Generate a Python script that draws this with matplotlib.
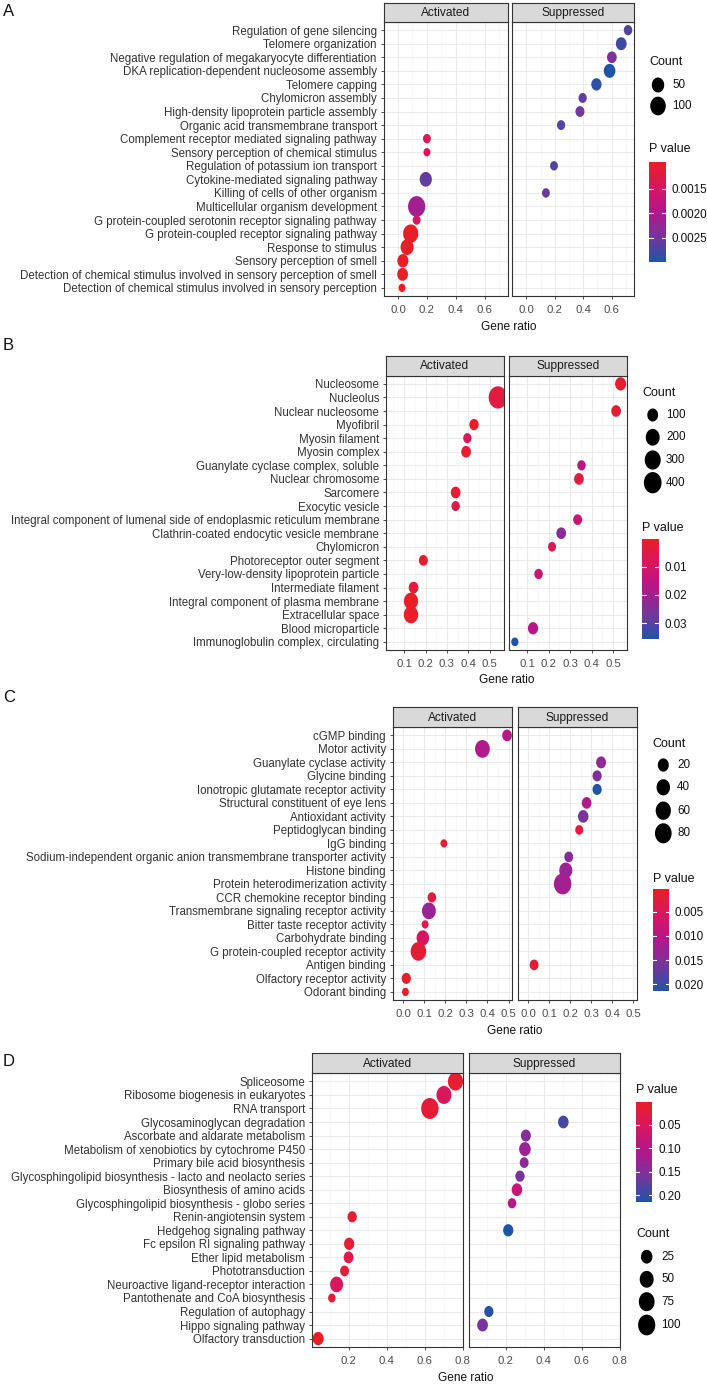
import numpy as np
import matplotlib
matplotlib.use("Agg")
import matplotlib.pyplot as plt
from matplotlib.path import Path
from matplotlib.colors import LinearSegmentedColormap, Normalize

W, H = 707, 1385

# ---------------- data ----------------
# panel A (biological process)
a_terms = ["Regulation of gene silencing", "Telomere organization",
           "Negative regulation of megakaryocyte differentiation",
           "DKA replication-dependent nucleosome assembly", "Telomere capping",
           "Chylomicron assembly", "High-density lipoprotein particle assembly",
           "Organic acid transmembrane transport",
           "Complement receptor mediated signaling pathway",
           "Sensory perception of chemical stimulus",
           "Regulation of potassium ion transport",
           "Cytokine-mediated signaling pathway",
           "Killing of cells of other organism",
           "Multicellular organism development",
           "G protein-coupled serotonin receptor signaling pathway",
           "G protein-coupled receptor signaling pathway", "Response to stimulus",
           "Sensory perception of smell",
           "Detection of chemical stimulus involved in sensory perception of smell",
           "Detection of chemical stimulus involved in sensory perception"]
a_facet = ["S", "S", "S", "S", "S", "S", "S", "S", "A", "A",
           "S", "A", "S", "A", "A", "A", "A", "A", "A", "A"]
a_ratio = [0.716, 0.668, 0.602, 0.586, 0.493, 0.396, 0.377, 0.244, 0.200, 0.200,
           0.194, 0.192, 0.137, 0.129, 0.129, 0.088, 0.063, 0.034, 0.032, 0.028]
a_count = [18, 32, 24, 40, 28, 17, 20, 17, 16, 15,
           16, 47, 16, 136, 16, 94, 58, 35, 32, 15]
a_pval = [0.0027, 0.0028, 0.0024, 0.0030, 0.0029, 0.0026, 0.0025, 0.0027, 0.0014, 0.0014,
          0.0027, 0.0026, 0.0026, 0.0021, 0.0015, 0.00097, 0.0010, 0.00095, 0.00095, 0.0010]
a_count_breaks = [50, 100]
a_p_ticks = [0.0015, 0.0020, 0.0025]

# panel B (cellular component)
b_terms = ["Nucleosome", "Nucleolus", "Nuclear nucleosome", "Myofibril",
           "Myosin filament", "Myosin complex", "Guanylate cyclase complex, soluble",
           "Nuclear chromosome", "Sarcomere", "Exocytic vesicle",
           "Integral component of lumenal side of endoplasmic reticulum membrane",
           "Clathrin-coated endocytic vesicle membrane", "Chylomicron",
           "Photoreceptor outer segment", "Very-low-density lipoprotein particle",
           "Intermediate filament", "Integral component of plasma membrane",
           "Extracellular space", "Blood microparticle",
           "Immunoglobulin complex, circulating"]
b_facet = ["S", "A", "S", "A", "A", "A", "S", "S", "A", "A",
           "S", "S", "S", "A", "S", "A", "A", "A", "S", "S"]
b_ratio = [0.536, 0.539, 0.515, 0.427, 0.396, 0.390, 0.353, 0.341, 0.341, 0.341,
           0.335, 0.258, 0.215, 0.190, 0.152, 0.144, 0.132, 0.132, 0.126, 0.041]
b_count = [105, 456, 79, 74, 64, 79, 65, 79, 79, 64,
           69, 79, 62, 69, 65, 79, 207, 218, 88, 60]
b_pval = [0.002, 0.004, 0.002, 0.001, 0.008, 0.002, 0.016, 0.004, 0.002, 0.006,
          0.013, 0.024, 0.007, 0.002, 0.013, 0.003, 0.0002, 0.001, 0.017, 0.0357]
b_count_breaks = [100, 200, 300, 400]
b_p_ticks = [0.01, 0.02, 0.03]

# panel C (molecular function)
c_terms = ["cGMP binding", "Motor activity", "Guanylate cyclase activity",
           "Glycine binding", "Ionotropic glutamate receptor activity",
           "Structural constituent of eye lens", "Antioxidant activity",
           "Peptidoglycan binding", "IgG binding",
           "Sodium-independent organic anion transmembrane transporter activity",
           "Histone binding", "Protein heterodimerization activity",
           "CCR chemokine receptor binding", "Transmembrane signaling receptor activity",
           "Bitter taste receptor activity", "Carbohydrate binding",
           "G protein-coupled receptor activity", "Antigen binding",
           "Olfactory receptor activity", "Odorant binding"]
c_facet = ["A", "A", "S", "S", "S", "S", "S", "S", "A", "S",
           "S", "S", "A", "A", "A", "A", "A", "S", "A", "A"]
c_ratio = [0.493, 0.376, 0.347, 0.328, 0.328, 0.278, 0.262, 0.243, 0.193, 0.193,
           0.179, 0.164, 0.136, 0.122, 0.104, 0.093, 0.072, 0.028, 0.0145, 0.0105]
c_count = [13, 54, 14, 11, 11, 13, 17, 8, 7, 10,
           36, 92, 9, 44, 7, 31, 64, 10, 11, 7]
c_pval = [0.010, 0.011, 0.014, 0.015, 0.0213, 0.011, 0.016, 0.003, 0.002, 0.015,
          0.013, 0.012, 0.003, 0.013, 0.004, 0.006, 0.002, 0.002, 0.001, 0.0004]
c_count_breaks = [20, 40, 60, 80]
c_p_ticks = [0.005, 0.010, 0.015, 0.020]

# panel D (KEGG pathway)
d_terms = ["Spliceosome", "Ribosome biogenesis in eukaryotes", "RNA transport",
           "Glycosaminoglycan degradation", "Ascorbate and aldarate metabolism",
           "Metabolism of xenobiotics by cytochrome P450",
           "Primary bile acid biosynthesis",
           "Glycosphingolipid biosynthesis - lacto and neolacto series",
           "Biosynthesis of amino acids",
           "Glycosphingolipid biosynthesis - globo series",
           "Renin-angiotensin system", "Hedgehog signaling pathway",
           "Fc epsilon RI signaling pathway", "Ether lipid metabolism",
           "Phototransduction", "Neuroactive ligand-receptor interaction",
           "Pantothenate and CoA biosynthesis", "Regulation of autophagy",
           "Hippo signaling pathway", "Olfactory transduction"]
d_facet = ["A", "A", "A", "S", "S", "S", "S", "S", "S", "S",
           "A", "S", "A", "A", "A", "A", "A", "S", "S", "A"]
d_ratio = [0.763, 0.702, 0.628, 0.504, 0.307, 0.302, 0.298, 0.276, 0.260, 0.234,
           0.219, 0.214, 0.203, 0.200, 0.179, 0.137, 0.112, 0.112, 0.079, 0.040]
d_count = [66, 63, 104, 19, 16, 26, 12, 13, 19, 11,
           13, 17, 17, 15, 12, 39, 10, 13, 20, 22]
d_pval = [0.010, 0.050, 0.020, 0.190, 0.150, 0.130, 0.140, 0.160, 0.080, 0.100,
          0.010, 0.215, 0.015, 0.030, 0.020, 0.050, 0.020, 0.210, 0.160, 0.0005]
d_count_breaks = [25, 50, 75, 100]
d_p_ticks = [0.05, 0.10, 0.15, 0.20]

# ---------------- style ----------------
plt.rcParams["font.family"] = ["Liberation Sans", "DejaVu Sans"]

cmap = LinearSegmentedColormap.from_list(
    "pv", ["#EA1F26", "#D7175E", "#B2188D", "#76369B", "#1F55A6"])

# ggplot dots in the source are slightly taller than wide
t = np.linspace(0, 2 * np.pi, 60)
ellipse = Path(np.column_stack([0.83 * np.cos(t), np.sin(t)]), closed=True)

fig = plt.figure(figsize=(W / 100, H / 100), dpi=100)


def px_axes(left, top, right, bottom):
    return fig.add_axes([left / W, 1 - bottom / H, (right - left) / W, (bottom - top) / H])


def dot_px(cnt, cmin, cmax, hrange):
    cnt = np.asarray(cnt, float)
    return hrange[0] + (hrange[1] - hrange[0]) * np.sqrt((cnt - cmin) / (cmax - cmin))


ov = fig.add_axes([0, 0, 1, 1], zorder=10)
ov.set_xlim(0, W)
ov.set_ylim(H, 0)
ov.axis("off")
ov.patch.set_alpha(0)


def panel(letter, letter_y, terms, facet, ratio, count, pval, count_breaks, p_ticks,
          act, sup, strip_top, top, bottom, xlim, xticks, hrange,
          gene_y, count_leg, p_leg, p_fmt):
    n = len(terms)
    ratio = np.array(ratio)
    facet = np.array(facet)
    pval = np.array(pval)
    count = np.array(count)
    cmin, cmax = count.min(), count.max()
    norm = Normalize(pval.min(), pval.max())
    hs = dot_px(count, cmin, cmax, hrange)
    ypos = np.arange(n)
    step = xticks[1] - xticks[0]
    minor = np.arange(xticks[0] - step / 2, xlim[1], step)
    for i, (key, (l, r), name) in enumerate([("A", act, "Activated"),
                                             ("S", sup, "Suppressed")]):
        ax = px_axes(l, top, r, bottom)
        ax.set_xlim(*xlim)
        ax.set_ylim(n - 0.4, -0.6)
        ax.set_xticks(xticks)
        ax.set_xticklabels(["%.1f" % v for v in xticks])
        ax.set_xticks(minor, minor=True)
        ax.set_yticks(ypos)
        ax.grid(which="major", color="#EBEBEB", lw=0.8)
        ax.grid(which="minor", axis="x", color="#F3F3F3", lw=0.45)
        ax.set_axisbelow(True)
        for s in ax.spines.values():
            s.set_color("#333333")
            s.set_linewidth(0.8)
        ax.tick_params(length=2.3, width=0.6, color="#333333", labelsize=8.2,
                       labelcolor="#4D4D4D")
        ax.tick_params(axis="x", pad=4.5)
        ax.tick_params(axis="y", pad=2.5)
        ax.tick_params(which="minor", length=0)
        if i == 0:
            ax.set_yticklabels(terms, fontsize=8.3, color="#333333")
        else:
            ax.tick_params(axis="y", left=False, labelleft=False)
        m = facet == key
        ax.scatter(ratio[m], ypos[m], s=(hs[m] * 0.72) ** 2, c=pval[m], cmap=cmap,
                   norm=norm, marker=ellipse, linewidths=0, zorder=3)
        sa = px_axes(l, strip_top, r, top)
        sa.set_facecolor("#D9D9D9")
        sa.set_xticks([])
        sa.set_yticks([])
        for s in sa.spines.values():
            s.set_color("#333333")
            s.set_linewidth(0.8)
        sa.text(0.5, 0.48, name, ha="center", va="center", fontsize=8.6,
                color="#1A1A1A", transform=sa.transAxes)

    ov.text(3, letter_y, letter, ha="left", va="center", fontsize=12, color="#111111")
    ov.text((act[0] + sup[1]) / 2, gene_y, "Gene ratio", ha="center", va="center",
            fontsize=8.6, color="#111111")

    # size legend
    lx, ly, dx, dys, tx = count_leg
    ov.text(lx, ly, "Count", ha="left", va="center", fontsize=9, color="#111111")
    kh = dot_px(count_breaks, cmin, cmax, hrange)
    ov.scatter([dx] * len(count_breaks), dys, s=(kh * 0.72) ** 2, c="black",
               marker=ellipse, linewidths=0)
    for yy, v in zip(dys, count_breaks):
        ov.text(tx, yy, str(v), ha="left", va="center", fontsize=8.4, color="#111111")

    # colour bar
    px, py, cl, ct, cr, cb = p_leg
    ov.text(px, py, "P value", ha="left", va="center", fontsize=9, color="#111111")
    cax = px_axes(cl, ct, cr, cb)
    pmin, pmax = pval.min(), pval.max()
    grad = np.linspace(pmin, pmax, 256).reshape(-1, 1)
    cax.imshow(grad, extent=[0, 1, pmax, pmin], aspect="auto", cmap=cmap, norm=norm)
    cax.set_xlim(0, 1)
    cax.set_ylim(pmax, pmin)
    for tk in p_ticks:
        cax.plot([0, 0.2], [tk, tk], color="white", lw=0.8)
        cax.plot([0.8, 1], [tk, tk], color="white", lw=0.8)
    cax.set_xticks([])
    cax.set_yticks(p_ticks)
    cax.set_yticklabels([p_fmt % v for v in p_ticks])
    cax.yaxis.tick_right()
    cax.tick_params(axis="y", length=0, pad=4.5, labelsize=8.4, labelcolor="#111111")
    for s in cax.spines.values():
        s.set_visible(False)


panel("A", 12, a_terms, a_facet, a_ratio, a_count, a_pval, a_count_breaks, a_p_ticks,
      act=(383.5, 507.7), sup=(512.3, 634), strip_top=3, top=22, bottom=296,
      xlim=(-0.02, 0.758), xticks=[0.0, 0.2, 0.4, 0.6],
      hrange=(8.3, 20.7), gene_y=327,
      count_leg=(649, 62, 658, [85, 106], 672),
      p_leg=(649, 149, 649.3, 162, 665.7, 262), p_fmt="%.4f")

panel("B", 346, b_terms, b_facet, b_ratio, b_count, b_pval, b_count_breaks, b_p_ticks,
      act=(386, 503.7), sup=(509.3, 627), strip_top=355.7, top=375.7, bottom=650,
      xlim=(0.015, 0.566), xticks=[0.1, 0.2, 0.3, 0.4, 0.5],
      hrange=(8.7, 22.3), gene_y=680,
      count_leg=(642, 393, 652.7, [415, 437.3, 460, 482.7], 666),
      p_leg=(642, 527.7, 642.3, 539, 658.7, 639.3), p_fmt="%.2f")

panel("C", 698, c_terms, c_facet, c_ratio, c_count, c_pval, c_count_breaks, c_p_ticks,
      act=(392.7, 512.3), sup=(517.7, 637), strip_top=707.3, top=727.3, bottom=1000,
      xlim=(-0.006, 0.518), xticks=[0.0, 0.1, 0.2, 0.3, 0.4, 0.5],
      hrange=(8.3, 21), gene_y=1030.7,
      count_leg=(652.7, 743.7, 663.3, [765, 787.3, 810.7, 833.3], 677),
      p_leg=(652.7, 878.7, 652.7, 889.3, 668.7, 990.7), p_fmt="%.3f")

panel("D", 1062, d_terms, d_facet, d_ratio, d_count, d_pval, d_count_breaks, d_p_ticks,
      act=(311.7, 463.3), sup=(468.7, 620.3), strip_top=1053.3, top=1073.3,
      bottom=1346.7, xlim=(0.006, 0.804), xticks=[0.2, 0.4, 0.6, 0.8],
      hrange=(9, 21), gene_y=1378.3,
      count_leg=(636, 1233.7, 646.7, [1256.7, 1279.3, 1301.7, 1325], 661),
      p_leg=(636, 1090, 636, 1101.7, 652, 1202.3), p_fmt="%.2f")

fig.savefig("out.png", dpi=100)
